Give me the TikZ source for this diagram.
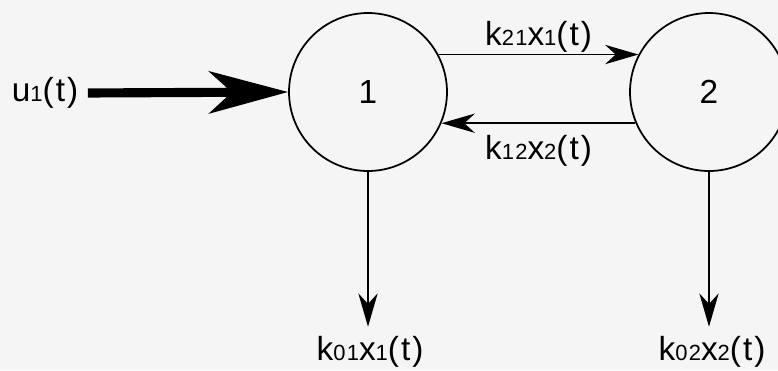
\documentclass[tikz,border=0pt]{standalone}
\usepackage{fontspec}
\newfontfamily\diagfont[LetterSpace=6]{Liberation Sans}
\newcommand{\sbs}[1]{{\fontsize{12.5}{14}\selectfont #1}}
\usetikzlibrary{arrows.meta,positioning}

\begin{document}
\begin{tikzpicture}[x=0.02cm,y=-0.02cm,
    every node/.style={font=\diagfont\fontsize{19}{22}\selectfont},
    comp/.style={draw,circle,line width=1pt,minimum size=3.16cm,inner sep=0pt},
    flow/.style={-{Stealth[length=19pt,width=11pt,inset=6pt]},line width=0.9pt},
    feed/.style={-{Stealth[length=45pt,width=24pt,inset=13pt]},line width=5.2pt}]
  %% Frame
  \fill[black!4] (0,0) rectangle (778,370);
  \useasboundingbox (0,0) rectangle (778,370);

  %% Compartments
  \node[comp] (c1) at (368,92) {1};
  \node[comp] (c2) at (709,92) {2};

  %% Input
  \node (u) at (45,93) {u\sbs{1}(t)};
  \draw[feed,shorten <=2pt] (u.east) -- (c1.west);

  %% Exchange between compartments
  \draw[flow] (c1.28) -- (c2.152)
        node[midway,above,inner sep=1pt] {k\sbs{21}x\sbs{1}(t)};
  \draw[flow] (c2.203) -- (c1.-23)
        node[midway,below=3pt] {k\sbs{12}x\sbs{2}(t)};

  %% Elimination
  \node (o1) at (370,352) {k\sbs{01}x\sbs{1}(t)};
  \node (o2) at (712,352) {k\sbs{02}x\sbs{2}(t)};
  \draw[flow,shorten >=2pt] (c1.south) -- (c1.south |- o1.north);
  \draw[flow,shorten >=2pt] (c2.south) -- (c2.south |- o2.north);
\end{tikzpicture}
\end{document}
